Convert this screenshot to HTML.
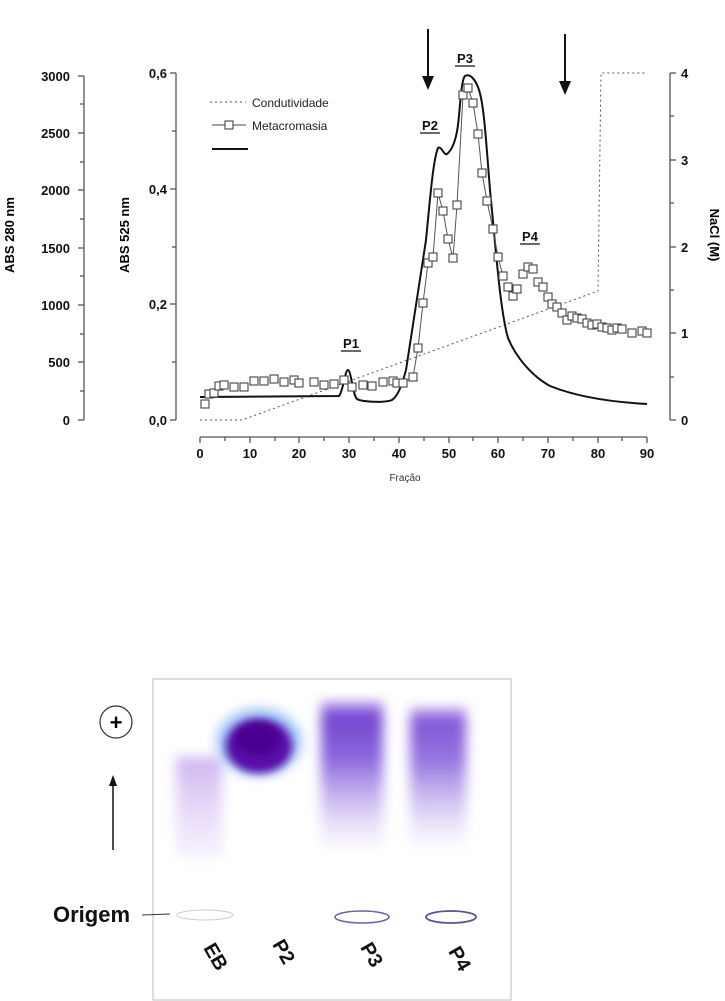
<!DOCTYPE html>
<html><head><meta charset="utf-8"><style>
html,body{margin:0;padding:0;background:#fff}
svg{display:block}
text{font-family:"Liberation Sans",Arial,sans-serif}
</style></head><body>
<svg width="725" height="1001" viewBox="0 0 725 1001" xmlns="http://www.w3.org/2000/svg">
<defs>
<filter id="b4" x="-50%" y="-50%" width="200%" height="200%"><feGaussianBlur stdDeviation="4"/></filter>
<filter id="b7" x="-50%" y="-50%" width="200%" height="200%"><feGaussianBlur stdDeviation="6"/></filter>
<linearGradient id="lane" x1="0" y1="0" x2="0" y2="1">
<stop offset="0" stop-color="#8a55d8" stop-opacity="0.6"/>
<stop offset="0.1" stop-color="#6a3ad0" stop-opacity="0.95"/>
<stop offset="0.4" stop-color="#7a50d8" stop-opacity="0.85"/>
<stop offset="0.7" stop-color="#b098e8" stop-opacity="0.6"/>
<stop offset="1" stop-color="#d8c8f4" stop-opacity="0.15"/>
</linearGradient>
<linearGradient id="eb" x1="0" y1="0" x2="0" y2="1">
<stop offset="0" stop-color="#c0a0ec" stop-opacity="0.8"/>
<stop offset="1" stop-color="#e0d0f8" stop-opacity="0.3"/>
</linearGradient>
</defs>

<g stroke="#555" stroke-width="1.3" fill="none">
<line x1="84" y1="76" x2="84" y2="420"/>
<line x1="78" y1="76" x2="84" y2="76"/><line x1="80" y1="104" x2="84" y2="104"/>
<line x1="78" y1="133" x2="84" y2="133"/><line x1="80" y1="162" x2="84" y2="162"/>
<line x1="78" y1="190" x2="84" y2="190"/><line x1="80" y1="219" x2="84" y2="219"/>
<line x1="78" y1="248" x2="84" y2="248"/><line x1="80" y1="276" x2="84" y2="276"/>
<line x1="78" y1="305" x2="84" y2="305"/><line x1="80" y1="334" x2="84" y2="334"/>
<line x1="78" y1="362" x2="84" y2="362"/><line x1="80" y1="391" x2="84" y2="391"/>
<line x1="78" y1="420" x2="84" y2="420"/>
</g>
<g font-size="13" font-weight="bold" text-anchor="end" fill="#111">
<text x="70" y="81">3000</text><text x="70" y="138">2500</text><text x="70" y="195">2000</text>
<text x="70" y="253">1500</text><text x="70" y="310">1000</text><text x="70" y="367">500</text>
<text x="70" y="425">0</text>
</g>
<text transform="translate(14,235) rotate(-90)" font-size="13" font-weight="bold" text-anchor="middle">ABS 280 nm</text>

<g stroke="#555" stroke-width="1.3">
<line x1="176" y1="73" x2="176" y2="420"/>
<line x1="170" y1="73" x2="176" y2="73"/><line x1="172" y1="131" x2="176" y2="131"/>
<line x1="170" y1="189" x2="176" y2="189"/><line x1="172" y1="247" x2="176" y2="247"/>
<line x1="170" y1="304" x2="176" y2="304"/><line x1="172" y1="362" x2="176" y2="362"/>
<line x1="170" y1="420" x2="176" y2="420"/>
</g>
<g font-size="13" font-weight="bold" text-anchor="end" fill="#111">
<text x="167" y="78">0,6</text><text x="167" y="194">0,4</text><text x="167" y="309">0,2</text><text x="167" y="425">0,0</text>
</g>
<text transform="translate(129,235) rotate(-90)" font-size="13" font-weight="bold" text-anchor="middle">ABS 525 nm</text>

<g stroke="#555" stroke-width="1.3">
<line x1="200" y1="437" x2="647" y2="437"/>
<line x1="200" y1="437" x2="200" y2="443"/><line x1="225" y1="437" x2="225" y2="441"/>
<line x1="250" y1="437" x2="250" y2="443"/><line x1="275" y1="437" x2="275" y2="441"/>
<line x1="299" y1="437" x2="299" y2="443"/><line x1="324" y1="437" x2="324" y2="441"/>
<line x1="349" y1="437" x2="349" y2="443"/><line x1="374" y1="437" x2="374" y2="441"/>
<line x1="399" y1="437" x2="399" y2="443"/><line x1="424" y1="437" x2="424" y2="441"/>
<line x1="449" y1="437" x2="449" y2="443"/><line x1="473" y1="437" x2="473" y2="441"/>
<line x1="498" y1="437" x2="498" y2="443"/><line x1="523" y1="437" x2="523" y2="441"/>
<line x1="548" y1="437" x2="548" y2="443"/><line x1="573" y1="437" x2="573" y2="441"/>
<line x1="598" y1="437" x2="598" y2="443"/><line x1="622" y1="437" x2="622" y2="441"/>
<line x1="647" y1="437" x2="647" y2="443"/>
</g>
<g font-size="13" font-weight="bold" text-anchor="middle" fill="#111">
<text x="200" y="458">0</text><text x="250" y="458">10</text><text x="299" y="458">20</text>
<text x="349" y="458">30</text><text x="399" y="458">40</text><text x="449" y="458">50</text>
<text x="498" y="458">60</text><text x="548" y="458">70</text><text x="598" y="458">80</text>
<text x="647" y="458">90</text>
</g>
<text x="405" y="481" font-size="10" text-anchor="middle" fill="#333">Fração</text>

<g stroke="#555" stroke-width="1.3">
<line x1="670" y1="73" x2="670" y2="420"/>
<line x1="670" y1="73" x2="676" y2="73"/><line x1="670" y1="116" x2="674" y2="116"/>
<line x1="670" y1="160" x2="676" y2="160"/><line x1="670" y1="203" x2="674" y2="203"/>
<line x1="670" y1="247" x2="676" y2="247"/><line x1="670" y1="290" x2="674" y2="290"/>
<line x1="670" y1="333" x2="676" y2="333"/><line x1="670" y1="377" x2="674" y2="377"/>
<line x1="670" y1="420" x2="676" y2="420"/>
</g>
<g font-size="13" font-weight="bold" fill="#111">
<text x="681" y="78">4</text><text x="681" y="165">3</text><text x="681" y="252">2</text>
<text x="681" y="338">1</text><text x="681" y="425">0</text>
</g>
<text transform="translate(710,235) rotate(90)" font-size="13" font-weight="bold" text-anchor="middle">NaCl (M)</text>

<line x1="210" y1="102" x2="246" y2="102" stroke="#555" stroke-dasharray="2,3"/>
<text x="252" y="107" font-size="12" fill="#222">Condutividade</text>
<line x1="212" y1="125" x2="246" y2="125" stroke="#444"/>
<rect x="225" y="121" width="8" height="8" fill="#fff" stroke="#333"/>
<text x="252" y="130" font-size="12" fill="#222">Metacromasia</text>
<line x1="212" y1="149" x2="248" y2="149" stroke="#111" stroke-width="2"/>

<polyline points="200,420 242,420 598,291 601,73 647,73" fill="none" stroke="#555" stroke-width="1" stroke-dasharray="2,3"/>

<path d="M200,397 L339,396 C343,392 345,370 348,370 C351,370 353,396 357,399 C362,402 385,403 392,400 C398,396 402,385 406,370 C412,330 420,280 426,240 C430,200 433,160 438,148 C441,145 444,156 447,154 C452,150 456,140 458,125 C460,110 461,80 465,76 C470,73 476,80 479,90 C484,105 486,140 490,190 C496,250 500,310 508,338 C515,355 530,375 550,386 C575,396 610,402 647,404" fill="none" stroke="#111" stroke-width="2"/>

<polyline points="397,383 403,383 413,377 418,348 423,303 428,263 433,257 438,193 443,211 448,239 453,258 457,205 463,95 468,88 473,103 478,134 482,173 487,201 493,229 498,257 503,276" fill="none" stroke="#555" stroke-width="1"/>
<g fill="#fff" stroke="#444" stroke-width="1.1">
<rect x="201" y="400" width="8" height="8"/>
<rect x="205" y="390" width="8" height="8"/><rect x="210" y="389" width="8" height="8"/>
<rect x="215" y="382" width="8" height="8"/><rect x="220" y="381" width="8" height="8"/>
<rect x="230" y="383" width="8" height="8"/><rect x="240" y="383" width="8" height="8"/>
<rect x="250" y="377" width="8" height="8"/><rect x="260" y="377" width="8" height="8"/>
<rect x="270" y="375" width="8" height="8"/><rect x="280" y="378" width="8" height="8"/>
<rect x="290" y="376" width="8" height="8"/><rect x="295" y="379" width="8" height="8"/>
<rect x="310" y="378" width="8" height="8"/><rect x="320" y="381" width="8" height="8"/>
<rect x="330" y="380" width="8" height="8"/><rect x="340" y="376" width="8" height="8"/>
<rect x="348" y="383" width="8" height="8"/><rect x="359" y="381" width="8" height="8"/>
<rect x="368" y="382" width="8" height="8"/><rect x="379" y="378" width="8" height="8"/>
<rect x="389" y="377" width="8" height="8"/><rect x="393" y="379" width="8" height="8"/>
<rect x="399" y="379" width="8" height="8"/><rect x="409" y="373" width="8" height="8"/>
<rect x="414" y="344" width="8" height="8"/><rect x="419" y="299" width="8" height="8"/>
<rect x="424" y="259" width="8" height="8"/><rect x="429" y="253" width="8" height="8"/>
<rect x="434" y="189" width="8" height="8"/><rect x="439" y="207" width="8" height="8"/>
<rect x="444" y="235" width="8" height="8"/><rect x="449" y="254" width="8" height="8"/>
<rect x="453" y="201" width="8" height="8"/><rect x="459" y="91" width="8" height="8"/>
<rect x="464" y="84" width="8" height="8"/><rect x="469" y="99" width="8" height="8"/>
<rect x="474" y="130" width="8" height="8"/><rect x="478" y="169" width="8" height="8"/>
<rect x="483" y="197" width="8" height="8"/><rect x="489" y="225" width="8" height="8"/>
<rect x="494" y="253" width="8" height="8"/><rect x="499" y="272" width="8" height="8"/>
<rect x="504" y="283" width="8" height="8"/><rect x="509" y="292" width="8" height="8"/>
<rect x="513" y="285" width="8" height="8"/><rect x="519" y="270" width="8" height="8"/>
<rect x="524" y="263" width="8" height="8"/><rect x="529" y="265" width="8" height="8"/>
<rect x="534" y="278" width="8" height="8"/><rect x="539" y="283" width="8" height="8"/>
<rect x="544" y="293" width="8" height="8"/><rect x="548" y="300" width="8" height="8"/>
<rect x="553" y="303" width="8" height="8"/><rect x="558" y="309" width="8" height="8"/>
<rect x="563" y="316" width="8" height="8"/><rect x="568" y="312" width="8" height="8"/>
<rect x="573" y="314" width="8" height="8"/><rect x="578" y="315" width="8" height="8"/>
<rect x="583" y="319" width="8" height="8"/><rect x="588" y="321" width="8" height="8"/>
<rect x="593" y="320" width="8" height="8"/><rect x="598" y="323" width="8" height="8"/>
<rect x="603" y="324" width="8" height="8"/><rect x="608" y="326" width="8" height="8"/>
<rect x="613" y="324" width="8" height="8"/><rect x="618" y="325" width="8" height="8"/>
<rect x="628" y="329" width="8" height="8"/><rect x="638" y="327" width="8" height="8"/>
<rect x="643" y="329" width="8" height="8"/>
</g>

<g font-size="13" font-weight="bold" text-anchor="middle" fill="#111">
<text x="351" y="348">P1</text><line x1="341" y1="351" x2="361" y2="351" stroke="#111" stroke-width="1.3"/>
<text x="430" y="130">P2</text><line x1="420" y1="133" x2="440" y2="133" stroke="#111" stroke-width="1.3"/>
<text x="465" y="63">P3</text><line x1="455" y1="66" x2="475" y2="66" stroke="#111" stroke-width="1.3"/>
<text x="530" y="241">P4</text><line x1="520" y1="244" x2="540" y2="244" stroke="#111" stroke-width="1.3"/>
</g>

<line x1="428" y1="29" x2="428" y2="78" stroke="#111" stroke-width="2"/>
<polygon points="422,76 434,76 428,90" fill="#111"/>
<line x1="565" y1="34" x2="565" y2="83" stroke="#111" stroke-width="2"/>
<polygon points="559,81 571,81 565,95" fill="#111"/>

<rect x="153" y="679" width="358" height="321" fill="#fff" stroke="#bbb" stroke-width="1"/>
<g filter="url(#b7)">
<rect x="176" y="757" width="46" height="100" fill="url(#eb)"/>
<rect x="321" y="702" width="62" height="146" fill="url(#lane)"/>
<rect x="410" y="708" width="56" height="138" fill="url(#lane)" opacity="0.9"/>
</g>
<ellipse cx="259" cy="742" rx="42" ry="33" fill="#7fb0f0" opacity="0.85" filter="url(#b7)"/>
<ellipse cx="259" cy="746" rx="33" ry="27" fill="#5a0fa8" filter="url(#b4)"/>
<ellipse cx="257" cy="739" rx="22" ry="16" fill="#4a0090" filter="url(#b4)"/>
<ellipse cx="205" cy="915" rx="28" ry="5" fill="none" stroke="#ccc" stroke-width="1"/>
<ellipse cx="362" cy="917" rx="27" ry="6" fill="none" stroke="#7060a0" stroke-width="1.5"/>
<ellipse cx="451" cy="917" rx="25" ry="6" fill="none" stroke="#605090" stroke-width="1.8"/>
<circle cx="116" cy="722" r="16" fill="#fff" stroke="#333" stroke-width="1.2"/>
<text x="116" y="730" font-size="22" font-weight="bold" text-anchor="middle">+</text>
<line x1="113" y1="850" x2="113" y2="785" stroke="#111" stroke-width="1.5"/>
<polygon points="109,786 117,786 113,775" fill="#111"/>
<text x="53" y="922" font-size="22" font-weight="bold" fill="#111">Origem</text>
<line x1="142" y1="915" x2="170" y2="914" stroke="#333" stroke-width="1"/>
<g font-size="20" font-weight="bold" fill="#111" text-anchor="middle">
<text transform="translate(210,960) rotate(60)">EB</text>
<text transform="translate(278,955) rotate(60)">P2</text>
<text transform="translate(366,958) rotate(60)">P3</text>
<text transform="translate(454,962) rotate(60)">P4</text>
</g>
</svg>
</body></html>
